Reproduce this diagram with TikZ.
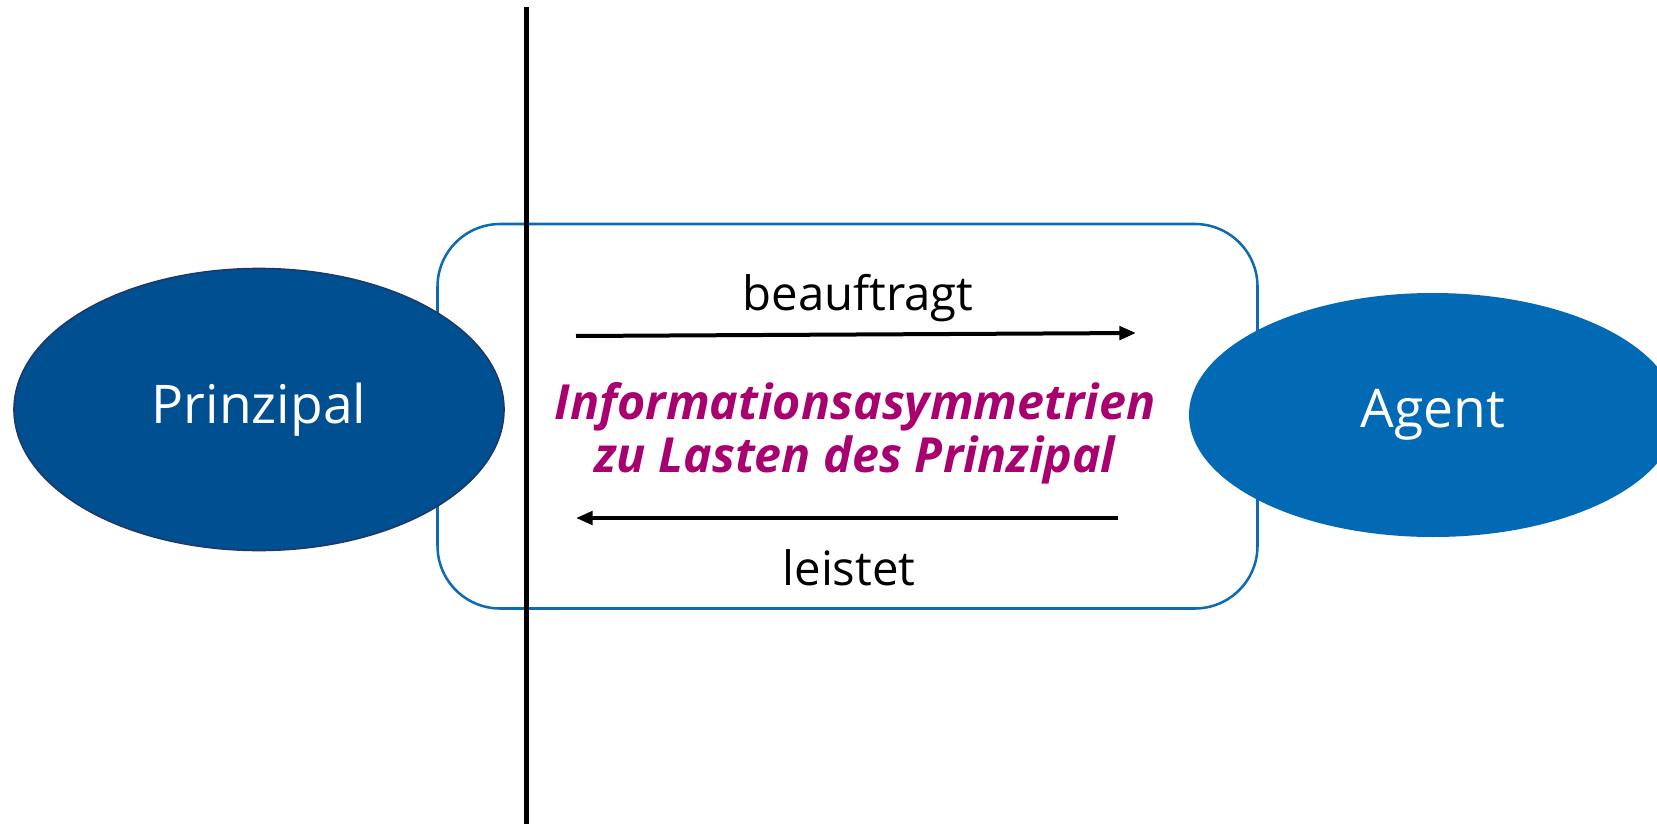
\documentclass[tikz,border=0pt]{standalone}
\usepackage{fontspec}
\setmainfont{Open Sans}
\usetikzlibrary{shapes.geometric,arrows.meta}

\definecolor{prinzblue}{RGB}{0,79,145}
\definecolor{prinzline}{RGB}{28,58,105}
\definecolor{agentblue}{RGB}{2,105,180}
\definecolor{boxblue}{RGB}{16,106,178}
\definecolor{asymred}{RGB}{168,0,110}

\tikzset{every picture/.style={line width=0.75pt}}
\tikzset{
  party/.style={ellipse, inner sep=0pt, text=white, font=\fontsize{40}{48}\selectfont},
  flow/.style={line width=3pt, -{Triangle[length=12.5pt,width=10pt]}},
  flowlabel/.style={inner sep=0.75pt, font=\fontsize{35.5}{42}\selectfont}
}

\begin{document}
\begin{tikzpicture}[x=0.75pt,y=0.75pt,yscale=-1.0,xscale=1.0]
    \useasboundingbox (0,0) rectangle (1657,824);

    % Rounded frame
    \draw [color=boxblue, line width=1.9pt, rounded corners=47pt] (437.5,224) rectangle (1257.5,608.5) ;
    % Separator
    \draw [line width=4.3pt] (526.5,7) -- (526.5,824) ;

    % Ellipse Nodes
    \node [party, fill=prinzblue, draw=prinzline, line width=1.2pt, minimum width=367.5pt, minimum height=211.5pt] (prinzipal) at (259,409.5) {Prinzipal};
    \node [party, fill=agentblue, minimum width=366pt, minimum height=183pt] (agent) at (1433,415) {Agent};

    % Arrow end points
    \coordinate (auftragA) at (576,336);
    \coordinate (auftragB) at (1136,333);
    \coordinate (leistungA) at (1118,518);
    \coordinate (leistungB) at (576,518);

    % Connection
    \draw [flow] (auftragA) -- (auftragB) ;
    \draw [flow] (leistungA) -- (leistungB) ;

    % Text Node
    \node [flowlabel] (beauftragt) at (858,298) {beauftragt};
    \node [flowlabel] (leistet) at (849,568) {leistet};
    \node [inner sep=0.75pt, align=center, text=asymred, font=\fontsize{36.3}{40}\selectfont\bfseries\itshape] (asymmetrie) at (855,433) {Informationsasymmetrien\\zu Lasten des Prinzipal};
\end{tikzpicture}
\end{document}
